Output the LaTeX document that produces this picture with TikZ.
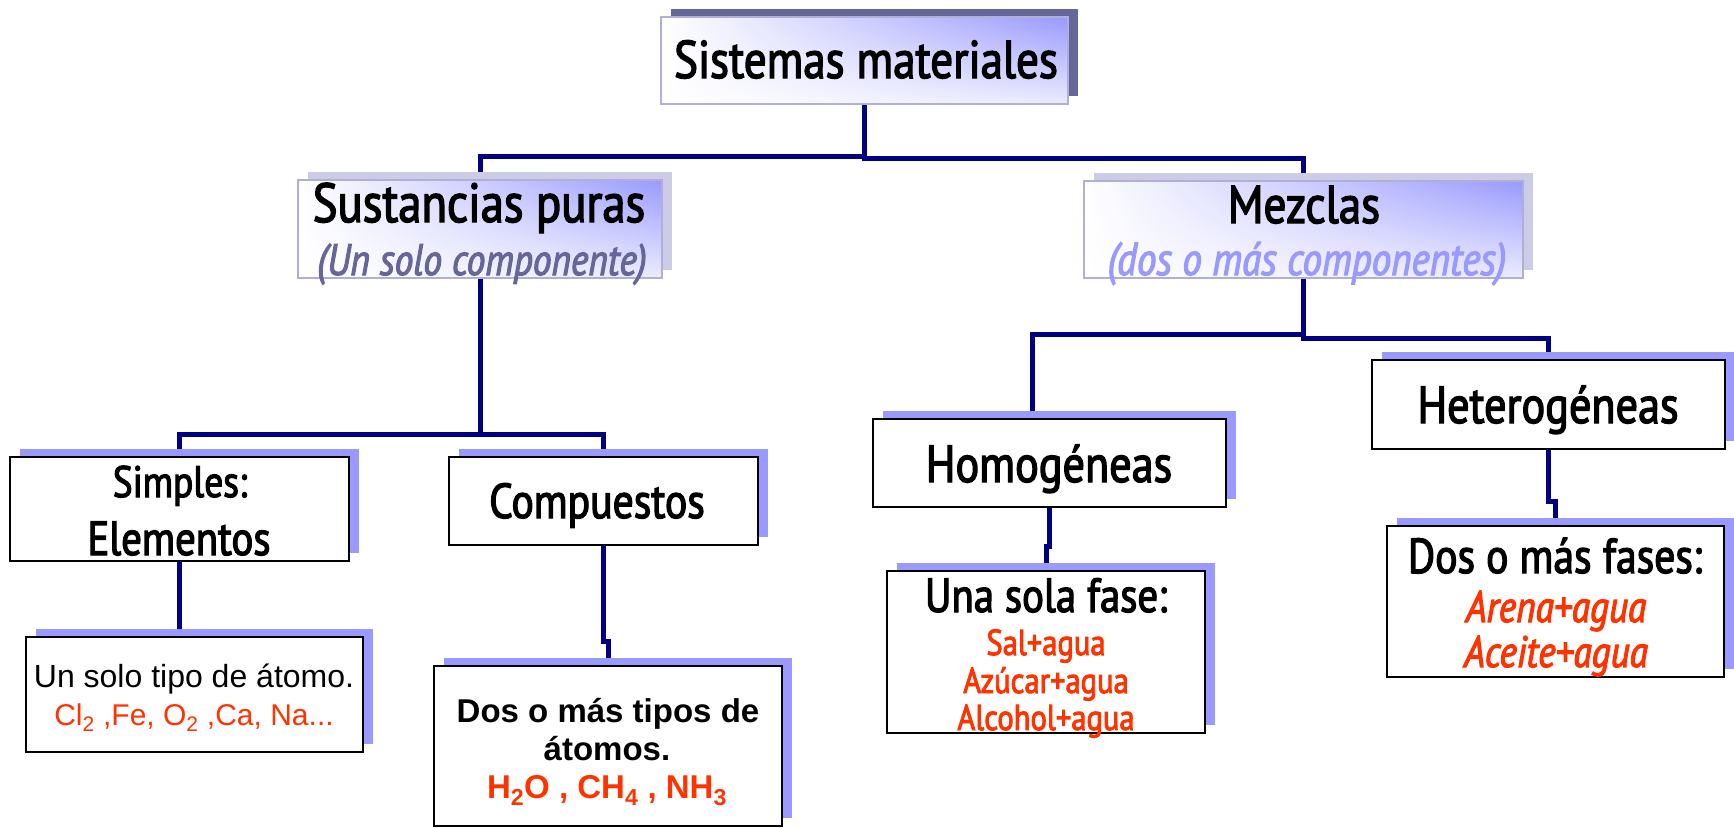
\documentclass[tikz,border=0pt]{standalone}
\usepackage{fontspec}
\setmainfont{Liberation Sans}
\newfontfamily\handfont[FakeStretch=0.85,FakeBold=2.5]{PT Sans}
\usetikzlibrary{shadows,shadings,backgrounds}
\definecolor{linknavy}{RGB}{0,0,128}
\definecolor{shadelav}{RGB}{153,153,255}
\definecolor{shadegrey}{RGB}{204,204,230}
\definecolor{shadedark}{RGB}{102,102,153}
\definecolor{edgelav}{RGB}{175,175,215}
\definecolor{txtred}{RGB}{255,51,0}
\newcommand\fsz[1]{\fontsize{#1}{#1}\selectfont}

\begin{document}
\begin{tikzpicture}[x=1pt,y=-1pt]

  \tikzset{
    link/.style={draw=linknavy, line width=5pt},
    lowbox/.style={draw=black, line width=2.5pt, fill=white,
      drop shadow={shadow xshift=10pt, shadow yshift=8pt, fill=shadelav, opacity=1}},
    highbox/.style={draw=edgelav, line width=2pt,
      drop shadow={shadow xshift=10pt, shadow yshift=8pt, fill=#1, opacity=1},
      shading=bilinear interpolation, shade,
      upper left=white, lower left=white,
      upper right=shadelav, lower right=shadelav!20},
    handtxt/.style={font=\handfont\fsz{#1}, anchor=base, inner sep=0pt},
    handit/.style={font=\handfont\itshape\fsz{#1}, anchor=base, inner sep=0pt},
    tahtxt/.style={font=\fsz{#1}, anchor=base, inner sep=0pt},
    tahbf/.style={font=\bfseries\fsz{#1}, anchor=base, inner sep=0pt},
  }
  \useasboundingbox (0,0) rectangle (1734,827);

  % boxes
  \node[highbox=shadedark, minimum width=407, minimum height=87] (sis) at (864.5,60.5) {};
  \node[highbox=shadegrey, minimum width=364, minimum height=98] (sus) at (480,229) {};
  \node[highbox=shadegrey, minimum width=439, minimum height=97] (mez) at (1303.5,229.5) {};
  \node[lowbox, minimum width=339, minimum height=104] (sim) at (179.5,509) {};
  \node[lowbox, minimum width=309, minimum height=88] (com) at (603.5,501) {};
  \node[lowbox, minimum width=353, minimum height=88] (hom) at (1049.5,463) {};
  \node[lowbox, minimum width=353, minimum height=89] (het) at (1548.5,404.5) {};
  \node[lowbox, minimum width=337, minimum height=115] (tipo) at (194.5,694.5) {};
  \node[lowbox, minimum width=348, minimum height=160] (tipos) at (608,746) {};
  \node[lowbox, minimum width=318, minimum height=162] (fase) at (1046,652) {};
  \node[lowbox, minimum width=337, minimum height=151] (fases) at (1555.5,601.5) {};

  % texts
  \node[handtxt=53] (sistxt) at (866,78) {Sistemas materiales};
  \node[handtxt=55] (sustxt) at (479,222) {Sustancias puras};
  \node[handit=44, text=shadedark] (sussub) at (482,275) {(Un solo componente)};
  \node[handtxt=53] (meztxt) at (1304,223) {Mezclas};
  \node[handit=46, text=shadelav] (mezsub) at (1307,275) {(dos o más componentes)};
  \node[handtxt=44] (simtxt) at (180,497) {Simples:};
  \node[handtxt=48] (eletxt) at (179,555) {Elementos};
  \node[handtxt=49] (comtxt) at (597,518) {Compuestos};
  \node[handtxt=52] (homtxt) at (1049,482) {Homogéneas};
  \node[handtxt=52] (hettxt) at (1548,423) {Heterogéneas};
  \node[tahtxt=32] (tipotxt) at (194,687) {Un solo tipo de átomo.};
  \node[tahtxt=30, text=txtred] (tipoej) at (194,725) {Cl\textsubscript{2} ,Fe, O\textsubscript{2} ,Ca, Na...};
  \node[tahbf=33] (tipostxt) at (608,722) {Dos o más tipos de};
  \node[tahbf=33] (tipostxtb) at (607,760) {átomos.};
  \node[tahbf=33, text=txtred] (tiposej) at (607,798) {H\textsubscript{2}O , CH\textsubscript{4} , NH\textsubscript{3}};
  \node[handtxt=48] (fasetxt) at (1046,612) {Una sola fase:};
  \node[handtxt=36, text=txtred] (faseej) at (1046,655) {Sal+agua};
  \node[handtxt=36, text=txtred] (faseejb) at (1046,693) {Azúcar+agua};
  \node[handtxt=36, text=txtred] (faseejc) at (1046,730) {Alcohol+agua};
  \node[handtxt=49] (fasestxt) at (1555,573) {Dos o más fases:};
  \node[handit=44, text=txtred] (fasesej) at (1556,622) {Arena+agua};
  \node[handit=44, text=txtred] (fasesejb) at (1556,667) {Aceite+agua};

  % connectors
  \begin{scope}[on background layer]
    \draw[link] (sis.south) -- ++(0,51) -| (sus.north);
    \draw[link] (sis.south) -- ++(0,53) -| (mez.north);
    \draw[link] (sus.south) -- ++(0,155) -| (sim.north);
    \draw[link] (sus.south) -- ++(0,155) -| (com.north);
    \draw[link] (mez.south) -- ++(0,55) -| ([xshift=-17pt]hom.north);
    \draw[link] (mez.south) -- ++(0,59) -| (het.north);
    \draw[link] (sim.south) -- (sim.south |- tipo.north);
    \draw[link] (com.south) -- ++(0,95) -| (tipos.north);
    \draw[link] (hom.south) -- ++(0,38) -| (fase.north);
    \draw[link] (het.south) -- ++(0,51) -| (fases.north);
  \end{scope}

\end{tikzpicture}
\end{document}
